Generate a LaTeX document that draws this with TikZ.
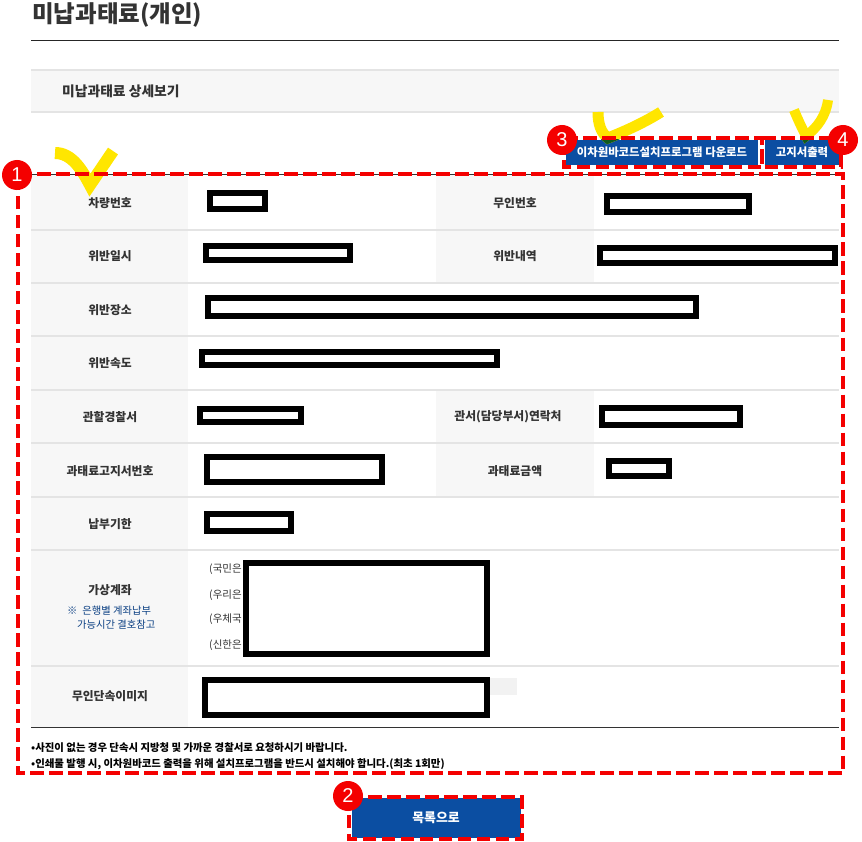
\documentclass[tikz,border=0pt]{standalone}
\usepackage{fontspec}
\setmainfont{Noto Sans CJK KR}
\newfontfamily\numfont{Liberation Sans}
\definecolor{navy}{HTML}{0B4EA2}
\definecolor{markred}{HTML}{F40000}
\definecolor{hiyellow}{HTML}{FFE600}
\definecolor{overlap}{HTML}{0F5A1E}
\definecolor{cellgray}{HTML}{F7F7F7}
\definecolor{rulegray}{HTML}{E4E4E4}
\definecolor{txt}{HTML}{333333}
\tikzset{
  x=1pt,y=-1pt,
  rowrule/.style={draw=rulegray,line width=1.2pt},
  redact/.style={draw=black,line width=5.5pt,fill=white},
  dashbox/.style={draw=markred,line width=4pt,dash pattern=on 13.5pt off 5.5pt},
  lab/.style={font=\fontsize{11.8}{14}\selectfont\bfseries,text=txt,inner sep=0pt,yshift=-1pt},
  btn/.style={fill=navy,draw=none,text=white,font=\fontsize{11.4}{13}\selectfont\bfseries,inner sep=0pt},
  badge/.style={circle,fill=markred,draw=none,text=white,minimum size=30pt,inner sep=0pt,font=\numfont\fontsize{20}{22}\selectfont},
  tick/.style={draw=hiyellow,line join=miter},
  small/.style={font=\fontsize{10.4}{12}\selectfont\bfseries,text=black,inner sep=0pt,anchor=west},
  bank/.style={font=\fontsize{10.5}{12}\selectfont,text=txt,inner sep=0pt,anchor=west},
  note/.style={anchor=west,inner sep=0pt,font=\fontsize{10.3}{12}\selectfont,text=navy!80!black}
}
\begin{document}
\begin{tikzpicture}
\useasboundingbox (0,0) rectangle (862,842);
\fill[white] (0,0) rectangle (862,842);
% heading
\node[anchor=west,inner sep=0pt,font=\fontsize{23.5}{27}\selectfont\bfseries,text=txt] (title) at (32,15) {미납과태료(개인)};
\draw[black!85,line width=1pt] (31,40.5) -- (839,40.5);
\fill[cellgray] (31,70) rectangle (839,112);
\draw[rowrule] (31,70) -- (839,70);
\draw[rowrule] (31,112) -- (839,112);
\node[anchor=west,inner sep=0pt,font=\fontsize{13.8}{16}\selectfont\bfseries,text=txt] (sub) at (62,91) {미납과태료 상세보기};
% table cells
\fill[cellgray] (31,175) rectangle (188,727);
\fill[cellgray] (436,175) rectangle (594,283);
\fill[cellgray] (436,390) rectangle (594,497);
\foreach \yy in {230,283,336,390,443,497,550,666}{\draw[rowrule] (31,\yy) -- (839,\yy);}
\draw[black!80,line width=.9pt] (31,727) -- (839,727);
\draw[black!80,line width=.9pt] (31,174) -- (839,174);
% labels
\node[lab] (l1) at (110,202) {차량번호};
\node[lab] (l2) at (110,255) {위반일시};
\node[lab] (l3) at (110,309) {위반장소};
\node[lab] (l4) at (110,362) {위반속도};
\node[lab] (l5) at (110,416) {관할경찰서};
\node[lab] (l6) at (110,470) {과태료고지서번호};
\node[lab] (l7) at (110,523) {납부기한};
\node[lab] (l8) at (110,589) {가상계좌};
\node[note] (n1) at (67,611) {※\hspace{5pt}은행별 계좌납부};
\node[note] (n2) at (77,625) {가능시간 결호참고};
\node[lab] (l9) at (110,695) {무인단속이미지};
\node[lab] (r1) at (515,202) {무인번호};
\node[lab] (r2) at (515,255) {위반내역};
\node[lab] (r5) at (508,416) {관서(담당부서)연락처};
\node[lab] (r6) at (515,470) {과태료금액};
% banks
\node[bank] (b1) at (209,569) {(국민은};
\node[bank] (b2) at (209,595) {(우리은};
\node[bank] (b3) at (209,619) {(우체국};
\node[bank] (b4) at (209,645) {(신한은};
\fill[black!5] (490,678) rectangle (517,695);
% redactions
\draw[redact] (210,193) rectangle (265,209);
\draw[redact] (206,246) rectangle (350,260);
\draw[redact] (208,298) rectangle (696,316);
\draw[redact] (202,352) rectangle (497,365);
\draw[redact] (200,409) rectangle (301,422);
\draw[redact] (207,457) rectangle (382,482);
\draw[redact] (207,514) rectangle (291,531);
\draw[redact] (607,196) rectangle (749,212);
\draw[redact] (600,248) rectangle (835,263);
\draw[redact] (602,408) rectangle (740,425);
\draw[redact] (609,461) rectangle (669,476);
\draw[redact] (246,563) rectangle (487,654);
\draw[redact] (205,680) rectangle (487,715);
% footnotes
\node[small] (f1) at (31,748) {•사진이 없는 경우 단속시 지방청 및 가까운 경찰서로 요청하시기 바랍니다.};
\node[small] (f2) at (31,764.5) {•인쇄물 발행 시, 이차원바코드 출력을 위해 설치프로그램을 반드시 설치해야 합니다.(최초 1회만)};
% buttons
\node[btn,minimum width=192pt,minimum height=25pt] (bar) at (662,152.5) {이차원바코드설치프로그램 다운로드};
\node[btn,minimum width=74pt,minimum height=25pt] (print) at (802,152.5) {고지서출력};
\node[btn,font=\fontsize{12.9}{15}\selectfont\bfseries,minimum width=169pt,minimum height=40pt] (list) at (436,818) {목록으로};
% yellow ticks
\draw[tick,line width=12pt] (55,153) .. controls (72,153) and (82,170) .. (90,185) -- (113,151);
\draw[tick,line width=11pt] (598,112) .. controls (598,124) and (601,133) .. (608,138) .. controls (628,130) and (645,122) .. (661,112);
\draw[tick,line width=10pt] (794,110) .. controls (798,120) and (802,128) .. (806,136) .. controls (817,128) and (826,116) .. (828,100);
\begin{scope}
\clip (566,140) rectangle (758,146);
\draw[tick,draw=overlap,line width=11pt] (598,112) .. controls (598,124) and (601,133) .. (608,138) .. controls (628,130) and (645,122) .. (661,112);
\end{scope}
\begin{scope}
\clip (765,140) rectangle (839,146);
\draw[tick,draw=overlap,line width=10pt] (794,110) .. controls (798,120) and (802,128) .. (806,136) .. controls (817,128) and (826,116) .. (828,100);
\end{scope}
% dashed frames
\draw[dashbox] (18,174.5) -- (843,174.5) -- (843,773) -- (18,773) -- cycle;
\draw[dashbox] (564,138) -- (762,138) -- (762,167) -- (564,167) -- cycle;
\draw[dashbox] (762,138) -- (841,138) -- (841,167) -- (762,167) -- cycle;
\draw[dashbox] (349,797) -- (522,797) -- (522,839) -- (349,839) -- cycle;
% badges
\node[badge] (m1) at (17,175) {1};
\node[badge] (m2) at (348,796) {2};
\node[badge] (m3) at (562,140) {3};
\node[badge] (m4) at (843,140) {4};
\end{tikzpicture}
\end{document}
